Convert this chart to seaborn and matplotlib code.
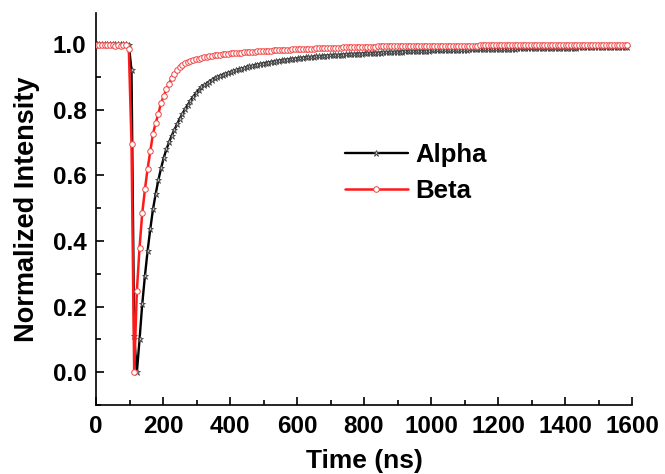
import numpy as np
import pandas as pd
import matplotlib
matplotlib.use("Agg")
import matplotlib.pyplot as plt
from matplotlib.ticker import MultipleLocator
import seaborn as sns

# sampling grid (ns)
time_ns = np.arange(2, 1587, 8)

alpha = [
    1.000, 1.001, 0.999, 1.000, 1.000, 0.999, 1.001, 1.000, 1.000, 0.999,
    1.000, 1.000, 0.998, 0.920, 0.110, 0.000, 0.100, 0.207, 0.293, 0.370,
    0.436, 0.496, 0.543, 0.585, 0.621, 0.653, 0.679, 0.701, 0.721, 0.739,
    0.756, 0.773, 0.788, 0.802, 0.815, 0.828, 0.839, 0.850, 0.860, 0.868,
    0.874, 0.880, 0.886, 0.891, 0.896, 0.900, 0.904, 0.907, 0.910, 0.913,
    0.915, 0.918, 0.920, 0.923, 0.925, 0.928, 0.930, 0.932, 0.934, 0.936,
    0.938, 0.940, 0.941, 0.943, 0.944, 0.946, 0.947, 0.948, 0.950, 0.951,
    0.952, 0.953, 0.954, 0.955, 0.956, 0.957, 0.958, 0.959, 0.960, 0.960,
    0.961, 0.962, 0.963, 0.963, 0.964, 0.965, 0.965, 0.966, 0.966, 0.967,
    0.967, 0.968, 0.968, 0.969, 0.969, 0.970, 0.970, 0.971, 0.971, 0.971,
    0.972, 0.972, 0.973, 0.973, 0.973, 0.974, 0.974, 0.975, 0.975, 0.975,
    0.976, 0.976, 0.977, 0.977, 0.977, 0.978, 0.978, 0.978, 0.979, 0.979,
    0.979, 0.980, 0.980, 0.980, 0.980, 0.981, 0.981, 0.981, 0.981, 0.982,
    0.982, 0.982, 0.982, 0.982, 0.983, 0.983, 0.983, 0.983, 0.983, 0.984,
    0.984, 0.984, 0.984, 0.984, 0.984, 0.985, 0.985, 0.985, 0.985, 0.985,
    0.985, 0.986, 0.986, 0.986, 0.986, 0.986, 0.986, 0.987, 0.987, 0.987,
    0.987, 0.987, 0.987, 0.987, 0.988, 0.988, 0.988, 0.988, 0.988, 0.988,
    0.988, 0.989, 0.989, 0.989, 0.989, 0.989, 0.989, 0.989, 0.989, 0.989,
    0.990, 0.990, 0.990, 0.990, 0.990, 0.990, 0.990, 0.990, 0.990, 0.990,
    0.990, 0.990, 0.990, 0.990, 0.990, 0.990, 0.990, 0.990, 0.990,
]

beta = [
    0.998, 0.997, 0.998, 0.996, 0.997, 0.996, 0.997, 0.995, 0.996, 0.995,
    0.996, 0.997, 0.985, 0.697, 0.000, 0.248, 0.380, 0.484, 0.557, 0.620,
    0.674, 0.726, 0.759, 0.787, 0.820, 0.841, 0.862, 0.880, 0.896, 0.909,
    0.920, 0.929, 0.937, 0.943, 0.947, 0.950, 0.952, 0.954, 0.956, 0.958,
    0.960, 0.962, 0.964, 0.965, 0.966, 0.967, 0.968, 0.969, 0.970, 0.971,
    0.972, 0.972, 0.973, 0.974, 0.974, 0.975, 0.976, 0.976, 0.977, 0.977,
    0.978, 0.978, 0.979, 0.979, 0.980, 0.980, 0.981, 0.981, 0.982, 0.982,
    0.983, 0.983, 0.983, 0.984, 0.984, 0.984, 0.985, 0.985, 0.985, 0.986,
    0.986, 0.986, 0.987, 0.987, 0.987, 0.988, 0.988, 0.988, 0.989, 0.989,
    0.989, 0.989, 0.990, 0.990, 0.990, 0.990, 0.991, 0.991, 0.991, 0.991,
    0.992, 0.992, 0.992, 0.992, 0.992, 0.993, 0.993, 0.993, 0.993, 0.993,
    0.993, 0.994, 0.994, 0.994, 0.994, 0.994, 0.994, 0.994, 0.994, 0.995,
    0.995, 0.995, 0.995, 0.995, 0.995, 0.995, 0.995, 0.995, 0.995, 0.995,
    0.995, 0.995, 0.995, 0.995, 0.995, 0.995, 0.995, 0.995, 0.995, 0.995,
    0.995, 0.995, 0.995, 0.996, 0.996, 0.996, 0.996, 0.996, 0.996, 0.996,
    0.996, 0.996, 0.996, 0.996, 0.996, 0.996, 0.996, 0.996, 0.996, 0.996,
    0.996, 0.996, 0.996, 0.996, 0.996, 0.996, 0.996, 0.996, 0.996, 0.996,
    0.996, 0.996, 0.996, 0.996, 0.996, 0.996, 0.996, 0.996, 0.996, 0.996,
    0.996, 0.996, 0.996, 0.996, 0.996, 0.996, 0.996, 0.996, 0.996, 0.996,
    0.996, 0.996, 0.996, 0.996, 0.996, 0.996, 0.996, 0.996, 0.996,
]

series_names = ["Alpha", "Beta"]
x_ticks = [0, 200, 400, 600, 800, 1000, 1200, 1400, 1600]
y_ticks = [0.0, 0.2, 0.4, 0.6, 0.8, 1.0]

sns.set_style("ticks")
plt.rcParams["font.family"] = ["Liberation Sans", "DejaVu Sans"]
plt.rcParams["font.weight"] = "bold"
plt.rcParams["text.color"] = "black"
plt.rcParams["axes.labelcolor"] = "black"
plt.rcParams["xtick.color"] = "black"
plt.rcParams["ytick.color"] = "black"

fig = plt.figure(figsize=(6.65, 4.74), dpi=100)
ax = fig.add_axes([96 / 665, 1 - 405 / 474, (632 - 96) / 665, (405 - 13) / 474])

df_a = pd.DataFrame({"t": time_ns, "v": alpha})
df_b = pd.DataFrame({"t": time_ns, "v": beta})

sns.lineplot(data=df_a, x="t", y="v", ax=ax, color="black", lw=1.7,
             marker="*", markersize=4.5, markerfacecolor="#bbbbbb",
             markeredgecolor="#333333", markeredgewidth=0.5,
             label=series_names[0], sort=False, zorder=2)
sns.lineplot(data=df_b, x="t", y="v", ax=ax, color="#ff1a1a", lw=1.8,
             marker="o", markersize=4, markerfacecolor="white",
             markeredgecolor="#ee4444", markeredgewidth=0.7,
             label=series_names[1], sort=False, zorder=3)

ax.set_xlim(0, 1600)
ax.set_ylim(-0.1, 1.095)
ax.set_xticks(x_ticks)
ax.set_yticks(y_ticks)
ax.set_yticklabels([f"{v:.1f}" for v in y_ticks])
ax.xaxis.set_minor_locator(MultipleLocator(100))
ax.yaxis.set_minor_locator(MultipleLocator(0.1))

for s in ["top", "right"]:
    ax.spines[s].set_visible(False)
for s in ["left", "bottom"]:
    ax.spines[s].set_linewidth(1.2)
    ax.spines[s].set_color("black")

ax.tick_params(axis="both", which="major", direction="in", length=6, width=1.2,
               labelsize=17.5, pad=7, colors="black")
ax.tick_params(axis="both", which="minor", direction="in", length=3.5, width=1.2,
               colors="black")
for lab in ax.get_xticklabels() + ax.get_yticklabels():
    lab.set_fontweight("bold")

ax.set_xlabel("Time (ns)", fontsize=19, fontweight="bold", labelpad=8)
ax.set_ylabel("Normalized Intensity", fontsize=19.5, fontweight="bold", labelpad=9)

leg = ax.legend(loc="upper left", bbox_to_anchor=(345 / 665, 1 - 143 / 474),
                bbox_transform=fig.transFigure, frameon=False,
                fontsize=18.5, handlelength=2.45, handletextpad=0.3,
                labelspacing=0.45, borderpad=0, borderaxespad=0)
for t in leg.get_texts():
    t.set_fontweight("bold")

fig.savefig("out.png", dpi=100)
